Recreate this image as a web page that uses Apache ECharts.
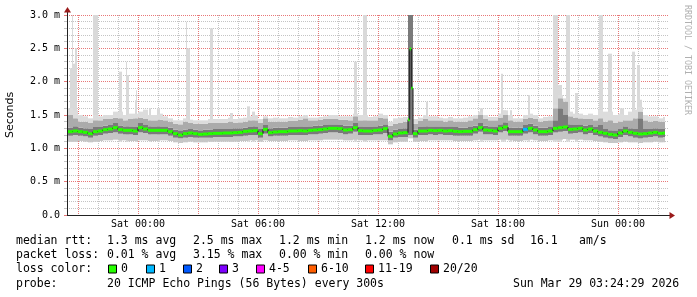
<!DOCTYPE html>
<html><head><meta charset="utf-8">
<script src="https://cdn.jsdelivr.net/npm/echarts@6/dist/echarts.min.js"></script>
<style>html,body{margin:0;padding:0;background:#fff}#c{width:697px;height:297px}</style>
</head><body><div id="c"></div>
<script>
// ---- time layout (hours relative to Sat 00:00) ----
const stepStart = -3.5, stepHours = 0.25, dataEnd = 26.35;
const axisMinH = -3.55, axisMaxH = 26.5;

// ---- median RTT per 15-min step (ms); null = see burst arrays ----
const median = [
 1.25,1.26,1.25,1.24,1.22,1.25,1.26,1.28,1.29,1.31,
 1.28,1.27,1.27,1.26,1.31,1.29,1.27,1.27,1.27,1.27,
 1.25,1.22,1.20,1.22,1.23,1.22,1.21,1.215,1.22,1.225,
 1.225,1.23,1.23,1.235,1.24,1.255,1.26,1.265,1.22,1.285,
 1.235,1.245,1.25,1.25,1.26,1.26,1.265,1.26,1.27,1.275,
 1.28,1.29,1.30,1.30,1.295,1.275,1.28,1.31,1.265,1.26,
 1.26,1.27,1.275,1.295,1.18,1.215,1.23,1.235,null,1.22,
 1.26,1.26,1.27,1.265,1.27,1.26,1.265,1.255,1.25,1.255,
 1.255,1.28,1.31,1.275,1.27,1.26,1.30,1.32,1.25,1.25,
 1.25,1.285,1.30,1.275,1.25,1.25,1.26,1.30,1.31,1.32,
 1.285,1.29,1.30,1.275,1.29,1.26,1.24,1.225,1.21,1.20,
 1.23,1.26,1.24,1.225,1.215,1.22,1.23,1.24,1.225,1.23
];
// burst around Sat 13:30 (5-min resolution)
const burstHours = [13.5, 13.5833, 13.6667];
const burstMedian = [1.43, 2.49, 1.90];
const burstWidth = 0.0833;

// lost pings (of 20) per step
const lossCount = [
 0,0,0,0,0,0,0,0,0,0, 0,0,0,0,0,0,0,0,0,0,
 0,0,0,0,0,0,0,0,0,0, 0,0,0,0,0,0,0,0,0,0,
 0,0,0,0,0,0,0,0,0,0, 0,0,0,0,0,0,0,0,0,0,
 0,0,0,0,0,0,0,0,0,0, 0,0,0,0,0,0,0,0,0,0,
 0,0,0,0,0,0,0,0,0,0, 0,1,0,0,0,0,0,0,0,0,
 0,0,0,0,0,0,0,0,0,0, 0,0,0,0,0,0,0,0,0,0
];

// ---- smoke (ping distribution) per step ----
const smokeMin = [
 1.10,1.10,1.11,1.10,1.09,1.10,1.11,1.12,1.12,1.13,
 1.12,1.12,1.11,1.11,1.12,1.12,1.11,1.11,1.12,1.12,
 1.11,1.09,1.08,1.09,1.10,1.09,1.09,1.09,1.10,1.10,
 1.10,1.10,1.10,1.10,1.11,1.11,1.12,1.12,1.10,1.12,
 1.11,1.11,1.11,1.11,1.12,1.12,1.11,1.11,1.12,1.12,
 1.12,1.13,1.13,1.13,1.13,1.12,1.12,1.13,1.12,1.12,
 1.12,1.12,1.12,1.12,1.06,1.09,1.10,1.10,1.15,1.10,
 1.11,1.11,1.12,1.12,1.12,1.12,1.12,1.11,1.11,1.11,
 1.11,1.12,1.13,1.12,1.12,1.12,1.13,1.13,1.12,1.11,
 1.11,1.12,1.13,1.12,1.11,1.11,1.12,1.13,1.13,1.14,
 1.13,1.13,1.13,1.12,1.12,1.11,1.10,1.09,1.08,1.08,
 1.09,1.10,1.09,1.09,1.08,1.09,1.09,1.10,1.09,1.09
];
const smokeLo = [
 1.19,1.20,1.19,1.18,1.16,1.19,1.20,1.22,1.23,1.24,
 1.22,1.21,1.21,1.20,1.24,1.23,1.21,1.21,1.21,1.21,
 1.19,1.16,1.15,1.16,1.17,1.16,1.16,1.16,1.16,1.17,
 1.17,1.17,1.17,1.18,1.18,1.19,1.20,1.20,1.16,1.22,
 1.18,1.19,1.19,1.19,1.20,1.20,1.20,1.20,1.21,1.21,
 1.22,1.23,1.24,1.24,1.23,1.21,1.22,1.25,1.20,1.20,
 1.20,1.21,1.21,1.23,1.12,1.16,1.17,1.17,1.20,1.16,
 1.20,1.20,1.21,1.20,1.21,1.20,1.20,1.19,1.19,1.19,
 1.19,1.22,1.25,1.21,1.21,1.20,1.24,1.26,1.19,1.19,
 1.19,1.22,1.24,1.21,1.19,1.19,1.20,1.24,1.25,1.26,
 1.22,1.23,1.24,1.21,1.23,1.20,1.18,1.16,1.15,1.14,
 1.17,1.20,1.18,1.16,1.15,1.16,1.17,1.18,1.16,1.17
];
const smokeHi = [
 1.31,1.33,1.31,1.30,1.29,1.32,1.32,1.34,1.35,1.38,
 1.34,1.33,1.33,1.32,1.38,1.35,1.33,1.33,1.33,1.33,
 1.31,1.28,1.27,1.28,1.29,1.28,1.27,1.28,1.28,1.29,
 1.29,1.29,1.29,1.30,1.30,1.31,1.32,1.33,1.29,1.35,
 1.30,1.31,1.31,1.31,1.32,1.32,1.33,1.32,1.33,1.34,
 1.34,1.35,1.36,1.36,1.35,1.34,1.34,1.38,1.33,1.32,
 1.32,1.33,1.34,1.36,1.25,1.28,1.29,1.30,3.00,1.28,
 1.32,1.33,1.33,1.33,1.33,1.32,1.33,1.32,1.31,1.31,
 1.32,1.34,1.38,1.34,1.33,1.32,1.36,1.39,1.31,1.31,
 1.31,1.35,1.37,1.34,1.31,1.31,1.33,1.42,1.60,1.50,
 1.36,1.35,1.36,1.34,1.35,1.32,1.35,1.29,1.27,1.27,
 1.29,1.33,1.30,1.29,1.45,1.29,1.29,1.30,1.29,1.29
];
const smokeUp = [
 1.50,1.45,1.40,1.40,1.38,1.42,1.42,1.44,1.44,1.46,
 1.45,1.42,1.44,1.45,1.46,1.44,1.42,1.42,1.43,1.42,
 1.40,1.37,1.36,1.40,1.38,1.37,1.37,1.37,1.38,1.38,
 1.38,1.38,1.40,1.38,1.39,1.40,1.42,1.42,1.38,1.45,
 1.40,1.40,1.40,1.40,1.41,1.41,1.43,1.45,1.42,1.42,
 1.43,1.44,1.44,1.44,1.43,1.43,1.42,1.48,1.42,1.42,
 1.42,1.42,1.46,1.45,1.34,1.37,1.38,1.40,3.00,1.37,
 1.41,1.44,1.42,1.42,1.42,1.40,1.42,1.40,1.40,1.40,
 1.42,1.45,1.50,1.44,1.42,1.42,1.46,1.50,1.42,1.40,
 1.40,1.44,1.46,1.44,1.40,1.41,1.42,1.60,1.75,1.70,
 1.48,1.46,1.45,1.44,1.44,1.42,1.45,1.40,1.42,1.38,
 1.40,1.42,1.42,1.45,1.55,1.42,1.40,1.41,1.40,1.40
];
const smokeMax = [
 1.60,1.57,1.50,1.48,1.45,1.50,1.48,1.50,1.50,1.55,
 1.55,1.50,1.52,1.52,1.55,1.58,1.50,1.50,1.52,1.48,
 1.45,1.42,1.42,1.45,1.43,1.42,1.42,1.42,1.44,1.44,
 1.44,1.44,1.46,1.44,1.45,1.46,1.48,1.50,1.44,1.48,
 1.45,1.46,1.45,1.45,1.47,1.46,1.48,1.50,1.46,1.46,
 1.47,1.48,1.50,1.50,1.48,1.48,1.48,1.52,1.50,1.50,
 1.47,1.48,1.52,1.50,1.40,1.45,1.46,1.47,3.00,1.44,
 1.46,1.50,1.48,1.48,1.46,1.45,1.47,1.45,1.45,1.46,
 1.48,1.50,1.55,1.50,1.47,1.47,1.52,1.57,1.50,1.45,
 1.45,1.50,1.52,1.50,1.45,1.47,1.48,1.65,1.80,1.75,
 1.55,1.52,1.52,1.50,1.52,1.50,1.58,1.55,1.55,1.50,
 1.52,1.50,1.55,1.58,1.62,1.50,1.48,1.48,1.45,1.47
];

// ---- narrow max-ping spikes: start hour, width (h), top (ms) ----
const spikeStart = [-3.4,-3.3,-3.3,-3.15,-2.25,-0.95,-0.6,-0.6,-0.15,-0.1,0.55,0.95,2.4,2.4,3.6,4.6,5.45,5.7,10.8,11.25,14.4,17.1,18.15,18.25,18.6,19.5,20.75,21.0,21.4,21.85,23.05,23.5,24.1,24.7,24.95,25.1];
const spikeWidth = [0.1,0.05,0.15,0.1,0.25,0.15,0.05,0.15,0.1,0.05,0.1,0.15,0.05,0.2,0.15,0.15,0.15,0.15,0.15,0.2,0.1,0.15,0.1,0.15,0.1,0.1,0.25,0.2,0.2,0.15,0.2,0.2,0.2,0.15,0.15,0.1];
const spikeTop = [2.2,3.0,2.27,2.5,3.0,2.15,2.3,2.1,1.72,1.87,1.6,1.6,2.9,2.5,2.8,1.53,1.63,1.55,2.3,3.0,1.7,1.6,2.12,1.57,1.57,1.8,3.0,1.95,3.0,1.83,3.0,2.42,1.6,2.45,2.25,1.73];

// ---- axis / legend text ----
const xTickHours = [0, 6, 12, 18, 24];
const xTickLabels = ['Sat 00:00', 'Sat 06:00', 'Sat 12:00', 'Sat 18:00', 'Sun 00:00'];
const lossLegendLabels = ['0', '1', '2', '3', '4-5', '6-10', '11-19', '20/20'];
const lossColors = ['#26ff00', '#00b8ff', '#0059ff', '#7e00ff', '#ff00ff', '#ff5e00', '#ff0000', '#a00000'];
const rttStats = ['1.3 ms avg', '2.5 ms max', '1.2 ms min', '1.2 ms now', '0.1 ms sd'];
const lossStats = ['0.01 % avg', '3.15 % max', '0.00 % min', '0.00 % now'];
const amsValue = '16.1', amsUnit = 'am/s';
const probeText = '20 ICMP Echo Pings (56 Bytes) every 300s';
const stampText = 'Sun Mar 29 03:24:29 2026';

function lossBin(n) {
  if (n <= 0) return 0; if (n === 1) return 1; if (n === 2) return 2; if (n === 3) return 3;
  if (n <= 5) return 4; if (n <= 10) return 5; if (n <= 19) return 6; return 7;
}

// build data
const smokeData = [], medianData = [];
for (let i = 0; i < median.length; i++) {
  const h0 = stepStart + i * stepHours, h1 = Math.min(h0 + stepHours, dataEnd);
  smokeData.push([h0, h1, smokeMin[i], smokeLo[i], smokeHi[i], smokeUp[i], smokeMax[i]]);
  if (median[i] === null) {
    for (let k = 0; k < burstHours.length; k++) {
      medianData.push([burstHours[k], burstHours[k] + burstWidth, burstMedian[k], lossCount[i]]);
    }
  } else {
    medianData.push([h0, h1, median[i], lossCount[i]]);
  }
}
for (let k = 0; k < medianData.length; k++) medianData[k].push(k > 0 ? medianData[k - 1][2] : -1);
const spikeData = spikeStart.map((h, k) => [h, h + spikeWidth[k], spikeTop[k]]);

// hourly vertical grid (every 3 h emphasised)
const vGridHours = [], vGridMajor = [];
for (let h = -3; h <= 26; h++) { vGridHours.push([h, 0]); vGridMajor.push(((h % 3) + 3) % 3 === 0); }

const chart = echarts.init(document.getElementById('c'), null, { renderer: 'canvas', width: 697, height: 297 });
const mono = 'DejaVu Sans Mono';
const majorCol = '#e87878', minorCol = '#c4c4c4';

chart.setOption({
  animation: false,
  backgroundColor: '#ffffff',
  grid: { left: 67, top: 15, width: 601, height: 200, containLabel: false, outerBoundsMode: 'none' },
  xAxis: {
    type: 'value', min: axisMinH, max: axisMaxH,
    axisLine: { show: true, onZero: false, lineStyle: { color: '#222', width: 1 } },
    axisTick: { show: false }, axisLabel: { show: false }, splitLine: { show: false }
  },
  yAxis: {
    type: 'value', min: 0, max: 3, interval: 0.5,
    name: 'Seconds', nameLocation: 'middle', nameGap: 51,
    nameTextStyle: { fontFamily: 'DejaVu Sans', fontSize: 11, color: '#000' },
    axisLine: { show: true, onZero: false, lineStyle: { color: '#222', width: 1 } },
    axisTick: { show: true, length: 3, lineStyle: { color: majorCol } },
    minorTick: { show: true, splitNumber: 5, length: 3, lineStyle: { color: minorCol } },
    axisLabel: {
      fontFamily: mono, fontSize: 10, color: '#000', margin: 7,
      formatter: v => (v === 0 ? '0.0' : v.toFixed(1) + ' m')
    },
    splitLine: { show: true, lineStyle: { color: majorCol, type: [1, 1] } },
    minorSplitLine: { show: true, lineStyle: { color: minorCol, type: [1, 1] } }
  },
  series: [
    {
      type: 'custom', name: 'vgrid', z: 1, silent: true,
      encode: { x: 0, y: 1 }, data: vGridHours,
      renderItem: (params, api) => {
        const h = api.value(0), major = vGridMajor[params.dataIndex];
        const top = api.coord([h, 3]), bot = api.coord([h, 0]);
        const x = Math.round(top[0]) + 0.5;
        return { type: 'line', shape: { x1: x, y1: top[1], x2: x, y2: bot[1] },
          style: { stroke: major ? majorCol : minorCol, lineWidth: 1, lineDash: [1, 1] } };
      }
    },
    {
      type: 'custom', name: 'spikes', z: 2, silent: true,
      encode: { x: [0, 1], y: [2] }, data: spikeData,
      renderItem: (params, api) => {
        const a = api.coord([api.value(0), api.value(2)]);
        const b = api.coord([api.value(1), 1.1]);
        return { type: 'rect', shape: { x: a[0], y: a[1], width: b[0] - a[0], height: b[1] - a[1] }, style: { fill: '#d9d9d9' } };
      }
    },
    {
      type: 'custom', name: 'smoke', z: 3, silent: true,
      encode: { x: [0, 1], y: [2, 6] }, data: smokeData,
      renderItem: (params, api) => {
        const h0 = api.value(0), h1 = api.value(1);
        const vals = [api.value(2), api.value(3), api.value(4), api.value(5), api.value(6)];
        const cols = ['#c6c6c6', '#7a7a7a', '#ababab', '#dcdcdc'];
        const x0 = api.coord([h0, 0])[0], x1 = api.coord([h1, 0])[0];
        const children = [];
        for (let k = 0; k < 4; k++) {
          const yTop = api.coord([h0, vals[k + 1]])[1], yBot = api.coord([h0, vals[k]])[1];
          children.push({ type: 'rect', shape: { x: x0, y: yTop, width: x1 - x0, height: yBot - yTop }, style: { fill: cols[k] } });
        }
        return { type: 'group', children };
      }
    },
    {
      type: 'custom', name: 'median', z: 4, silent: true,
      encode: { x: [0, 1], y: [2] }, data: medianData,
      renderItem: (params, api) => {
        const h0 = api.value(0), h1 = api.value(1), v = api.value(2), loss = api.value(3), pv = api.value(4);
        const a = api.coord([h0, v]), b = api.coord([h1, v]);
        const children = [];
        if (pv > 0) {
          const p = api.coord([h0, pv]);
          children.push({ type: 'line', shape: { x1: a[0], y1: p[1], x2: a[0], y2: a[1] }, style: { stroke: '#1e1e1e', lineWidth: 1 } });
        }
        children.push({ type: 'rect', shape: { x: a[0], y: a[1] - 1.5, width: b[0] - a[0], height: 3 }, style: { fill: lossColors[lossBin(loss)] } });
        return { type: 'group', children };
      }
    }
  ]
});

// ---- graphic texts (labels placed via axis scale) ----
const g = [];
xTickHours.forEach((h, k) => {
  const px = chart.convertToPixel({ xAxisIndex: 0 }, h);
  g.push({ type: 'text', x: px, y: 224, silent: true,
    style: { text: xTickLabels[k], font: '10px "' + mono + '"', fill: '#000', textAlign: 'center', textVerticalAlign: 'middle' } });
});
// axis arrows
g.push({ type: 'line', silent: true, shape: { x1: 67.5, y1: 15, x2: 67.5, y2: 11 }, style: { stroke: '#222', lineWidth: 1 } });
g.push({ type: 'polygon', silent: true, shape: { points: [[67.5, 7], [64, 12.5], [71, 12.5]] }, style: { fill: '#9a1a1a' } });
g.push({ type: 'line', silent: true, shape: { x1: 668, y1: 215.5, x2: 670, y2: 215.5 }, style: { stroke: '#222', lineWidth: 1 } });
g.push({ type: 'polygon', silent: true, shape: { points: [[675, 215.5], [669.5, 212], [669.5, 219]] }, style: { fill: '#9a1a1a' } });
// watermark
g.push({ type: 'text', x: 687, y: 5, rotation: -Math.PI / 2, silent: true,
  style: { text: 'RRDTOOL / TOBI OETIKER', font: '8.3px "' + mono + '"', fill: '#b0b0b0', textAlign: 'left', textVerticalAlign: 'middle' } });

const lf = '11.5px "' + mono + '"';
function txt(t, x, y) {
  g.push({ type: 'text', x: x, y: y, silent: true, style: { text: t, font: lf, fill: '#000', textAlign: 'left', textVerticalAlign: 'middle' } });
}
const rowY = [241, 255.5, 269.5, 284];
const colX = [107, 193, 279, 365, 452];
txt('median rtt:', 16, rowY[0]);
rttStats.forEach((t, k) => txt(t, colX[k], rowY[0]));
txt(amsValue, 530, rowY[0]); txt(amsUnit, 579, rowY[0]);
txt('packet loss:', 16, rowY[1]);
lossStats.forEach((t, k) => txt(t, colX[k], rowY[1]));
txt('loss color:', 16, rowY[2]);
const boxX = [108, 146, 183, 219, 256, 308, 365, 430];
lossLegendLabels.forEach((t, k) => {
  g.push({ type: 'rect', silent: true, shape: { x: boxX[k] + 0.5, y: rowY[2] - 4.5, width: 8, height: 8 }, style: { fill: lossColors[k], stroke: '#000', lineWidth: 1 } });
  txt(t, boxX[k] + 13, rowY[2]);
});
txt('probe:', 16, rowY[3]);
txt(probeText, 107, rowY[3]);
txt(stampText, 513, rowY[3]);

chart.setOption({ graphic: g });
</script>
</body></html>
